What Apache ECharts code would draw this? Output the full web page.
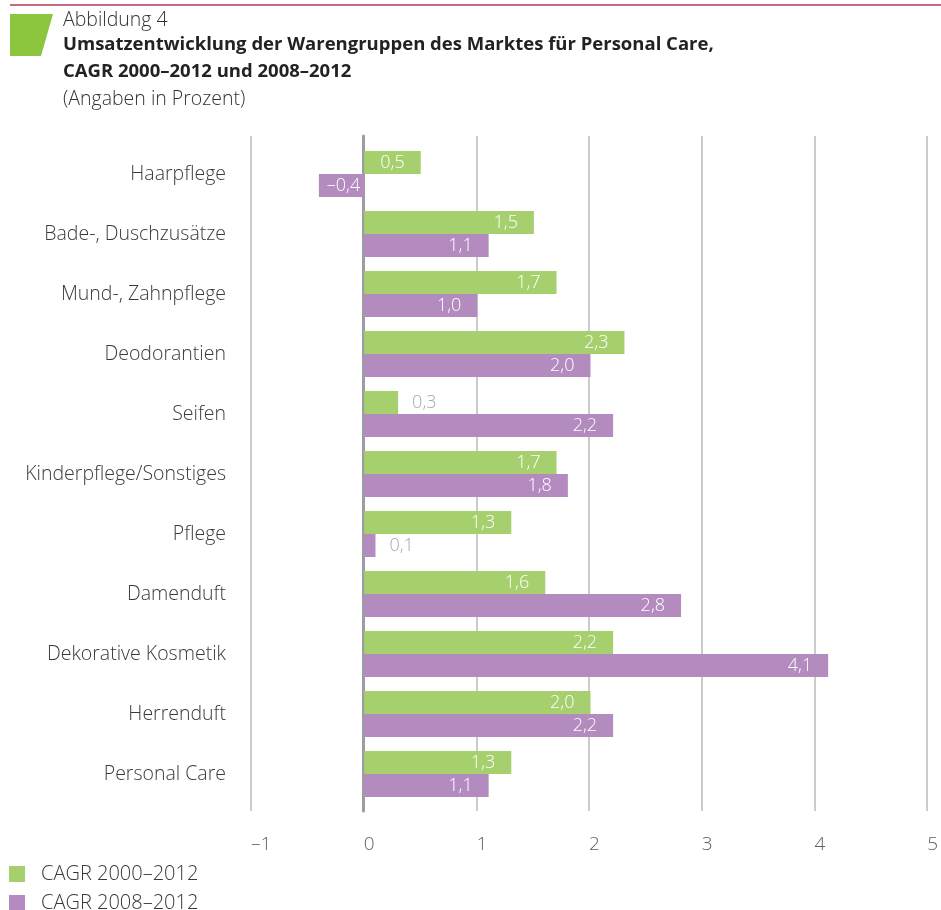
<!DOCTYPE html>
<html>
<head>
<meta charset="utf-8">
<script src="https://cdn.jsdelivr.net/npm/echarts@6/dist/echarts.min.js"></script>
<style>
  html, body { margin: 0; padding: 0; background: #ffffff; }
  #chart { width: 941px; height: 910px; }
</style>
</head>
<body>
<div id="chart"></div>
<script>
// Warengruppen (top to bottom)
const categories = [
  'Haarpflege', 'Bade-, Duschzusätze', 'Mund-, Zahnpflege', 'Deodorantien',
  'Seifen', 'Kinderpflege/Sonstiges', 'Pflege', 'Damenduft',
  'Dekorative Kosmetik', 'Herrenduft', 'Personal Care'
];
// CAGR in Prozent
const cagr2000to2012 = [0.5, 1.5, 1.7, 2.3, 0.3, 1.7, 1.3, 1.6, 2.2, 2.0, 1.3];
const cagr2008to2012 = [-0.4, 1.1, 1.0, 2.0, 2.2, 1.8, 0.1, 2.8, 4.1, 2.2, 1.1];
const seriesNames = ['CAGR 2000\u20132012', 'CAGR 2008\u20132012'];
const xTicks = { min: -1, max: 5, step: 1 };

const GREEN = '#a6d06d';
const PURPLE = '#b38bbf';
const FONT = '"Open Sans", "Liberation Sans", sans-serif';

function fmt(v) {
  return v.toFixed(1).replace('.', ',').replace('-', '\u2013');
}

// Short bars get their value printed outside in grey, others inside in white
function withLabels(values) {
  return values.map(function (v) {
    const small = Math.abs(v) < 0.35;
    let label;
    if (small) {
      label = { position: 'right', distance: 14, color: '#a8a8ac' };
    } else if (v < 0) {
      label = { position: 'insideRight', distance: 4, color: '#ffffff' };
    } else {
      label = { position: 'insideRight', distance: 16, color: '#ffffff' };
    }
    return { value: v, label: label };
  });
}

const chart = echarts.init(document.getElementById('chart'), null, { renderer: 'canvas' });

const barLabel = {
  show: true,
  fontFamily: FONT,
  fontWeight: 300,
  fontSize: 18,
  formatter: function (p) { return fmt(p.value); }
};

// One legend block per series, stacked vertically under the axis
function legendRow(name, top) {
  return {
    left: 9, top: top, padding: 0,
    itemWidth: 16, itemHeight: 16, icon: 'rect',
    textStyle: { fontFamily: FONT, fontWeight: 300, fontSize: 20, color: '#383838',
                 lineHeight: 16, padding: [0, 0, 0, 11] },
    data: [name]
  };
}

function headText(text, y, weight, size, color) {
  return { type: 'text', x: 63, y: y,
    style: { text: text, font: weight + ' ' + size + 'px ' + FONT, fill: color,
             textVerticalAlign: 'middle', verticalAlign: 'middle' } };
}

chart.setOption({
  animation: false,
  backgroundColor: '#ffffff',
  textStyle: { fontFamily: FONT },
  graphic: [
    { type: 'line', shape: { x1: 10, y1: 5, x2: 941, y2: 5 },
      style: { stroke: '#c46b82', lineWidth: 2 } },
    { type: 'polygon', shape: { points: [[10, 14], [53, 14], [41, 56], [10, 56]] },
      style: { fill: '#8cc63f' } },
    headText('Abbildung 4', 20, 300, 19.5, '#333333'),
    headText('Umsatzentwicklung der Warengruppen des Marktes für Personal Care,', 45, 'bold', 18.5, '#222222'),
    headText('CAGR 2000\u20132012 und 2008\u20132012', 72, 'bold', 18.5, '#222222'),
    headText('(Angaben in Prozent)', 99, 300, 19.5, '#333333')
  ],
  legend: [legendRow(seriesNames[0], 864), legendRow(seriesNames[1], 893)],
  grid: [
    // bars
    { left: 251, right: 11, top: 144, height: 660 },
    // grid lines and value labels
    { left: 251, right: 11, top: 136, height: 675 }
  ],
  xAxis: [
    { gridIndex: 0, type: 'value', min: xTicks.min, max: xTicks.max, interval: xTicks.step,
      axisLine: { show: false }, axisTick: { show: false }, axisLabel: { show: false },
      splitLine: { show: false } },
    { gridIndex: 1, type: 'value', min: xTicks.min, max: xTicks.max, interval: xTicks.step,
      axisLine: { show: false }, axisTick: { show: false },
      splitLine: { show: true, lineStyle: { color: '#cbcbcf', width: 2 } },
      axisLabel: {
        show: true, margin: 24, align: 'left', fontFamily: FONT, fontWeight: 300,
        fontSize: 19, color: '#5f5f66',
        formatter: function (v) { return String(v).replace('-', '\u2013'); }
      } }
  ],
  yAxis: [
    { gridIndex: 0, type: 'category', data: categories, inverse: true,
      axisLine: { show: false, onZero: false }, axisTick: { show: false },
      axisLabel: { margin: 25, fontFamily: FONT, fontWeight: 300, fontSize: 19.5, color: '#3a3a3a' } },
    { gridIndex: 1, type: 'value', min: 0, max: 1,
      axisLine: { show: true, onZero: true, lineStyle: { color: '#9c9ca4', width: 3 } },
      axisTick: { show: false }, axisLabel: { show: false }, splitLine: { show: false } }
  ],
  series: [
    { name: seriesNames[0], type: 'bar', xAxisIndex: 0, yAxisIndex: 0,
      barWidth: 23, barGap: '0%', itemStyle: { color: GREEN },
      label: barLabel, data: withLabels(cagr2000to2012), z: 3 },
    { name: seriesNames[1], type: 'bar', xAxisIndex: 0, yAxisIndex: 0,
      barWidth: 23, barGap: '0%', itemStyle: { color: PURPLE },
      label: barLabel, data: withLabels(cagr2008to2012), z: 3 }
  ]
});
</script>
</body>
</html>
